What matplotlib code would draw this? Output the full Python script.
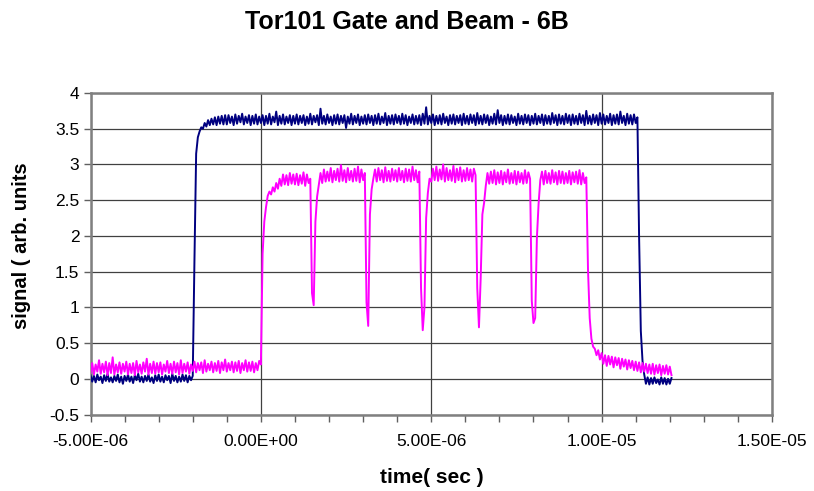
import numpy as np
import matplotlib
matplotlib.use("Agg")
import matplotlib.pyplot as plt
from matplotlib.ticker import FuncFormatter, MultipleLocator

# scope samples: one row = 1 us, 20 samples of 0.05 us
T_START = -5.0e-6
T_STEP = 0.05e-6

gate = [
    0.05, -0.04, 0.04, -0.05, 0.06, -0.02, 0.03, -0.06, 0.05, -0.03, 0.07, -0.04, 0.02, -0.05, 0.04, -0.03, 0.06, -0.05, 0.03, -0.07,
    0.04, -0.03, 0.06, -0.04, 0.03, -0.06, 0.05, -0.02, 0.07, -0.04, 0.03, -0.05, 0.04, -0.03, 0.06, -0.04, 0.02, -0.06, 0.05, -0.03,
    0.06, -0.04, 0.03, -0.05, 0.05, -0.02, 0.04, -0.06, 0.07, -0.03, 0.04, -0.05, 0.03, -0.04, 0.06, -0.03, 0.05, -0.05, 0.04, -0.02,
    0.04, 1.65, 3.15, 3.38, 3.46, 3.52, 3.50, 3.58, 3.53, 3.62, 3.55, 3.64, 3.56, 3.66, 3.55, 3.67, 3.57, 3.68, 3.56, 3.69,
    3.56, 3.69, 3.58, 3.67, 3.55, 3.70, 3.57, 3.68, 3.59, 3.71, 3.56, 3.67, 3.58, 3.69, 3.55, 3.68, 3.57, 3.70, 3.56, 3.67,
    3.58, 3.69, 3.55, 3.68, 3.57, 3.71, 3.56, 3.67, 3.59, 3.74, 3.55, 3.68, 3.57, 3.70, 3.56, 3.67, 3.58, 3.69, 3.55, 3.68,
    3.57, 3.70, 3.56, 3.68, 3.58, 3.69, 3.55, 3.67, 3.57, 3.71, 3.56, 3.68, 3.59, 3.69, 3.55, 3.78, 3.57, 3.68, 3.56, 3.70,
    3.58, 3.67, 3.55, 3.69, 3.57, 3.70, 3.56, 3.68, 3.58, 3.69, 3.51, 3.67, 3.57, 3.71, 3.56, 3.68, 3.58, 3.70, 3.55, 3.67,
    3.57, 3.69, 3.56, 3.70, 3.58, 3.68, 3.55, 3.69, 3.57, 3.71, 3.56, 3.67, 3.58, 3.72, 3.55, 3.68, 3.57, 3.69, 3.56, 3.70,
    3.58, 3.68, 3.56, 3.71, 3.57, 3.69, 3.55, 3.67, 3.58, 3.70, 3.56, 3.68, 3.57, 3.69, 3.55, 3.71, 3.57, 3.80, 3.56, 3.68,
    3.58, 3.70, 3.55, 3.68, 3.57, 3.69, 3.56, 3.71, 3.58, 3.67, 3.55, 3.69, 3.57, 3.70, 3.56, 3.68, 3.58, 3.69, 3.55, 3.71,
    3.57, 3.68, 3.56, 3.70, 3.58, 3.69, 3.55, 3.72, 3.57, 3.68, 3.56, 3.70, 3.58, 3.69, 3.55, 3.67, 3.57, 3.71, 3.56, 3.76,
    3.58, 3.69, 3.55, 3.68, 3.57, 3.70, 3.56, 3.69, 3.58, 3.67, 3.55, 3.71, 3.57, 3.68, 3.56, 3.70, 3.58, 3.69, 3.55, 3.68,
    3.57, 3.71, 3.56, 3.68, 3.58, 3.70, 3.55, 3.69, 3.57, 3.68, 3.56, 3.72, 3.58, 3.69, 3.55, 3.70, 3.57, 3.68, 3.56, 3.71,
    3.58, 3.69, 3.55, 3.70, 3.57, 3.68, 3.56, 3.71, 3.58, 3.69, 3.55, 3.75, 3.57, 3.68, 3.56, 3.70, 3.58, 3.69, 3.55, 3.72,
    3.57, 3.70, 3.56, 3.68, 3.58, 3.71, 3.55, 3.69, 3.57, 3.70, 3.56, 3.74, 3.58, 3.68, 3.55, 3.71, 3.57, 3.69, 3.56, 3.70,
    3.58, 3.66, 1.97, 0.67, 0.25, 0.06, -0.07, 0.02, -0.08, 0.01, -0.07, 0.02, -0.06, -0.01, -0.08, 0.02, -0.07, 0.01, -0.08, 0.00,
    -0.07, 0.01,
]

beam = [
    0.08, 0.22, 0.06, 0.20, 0.10, 0.26, 0.07, 0.21, 0.09, 0.24, 0.05, 0.22, 0.08, 0.30, 0.06, 0.20, 0.09, 0.23, 0.07, 0.21,
    0.10, 0.24, 0.06, 0.21, 0.08, 0.22, 0.05, 0.25, 0.09, 0.20, 0.07, 0.23, 0.10, 0.28, 0.06, 0.21, 0.08, 0.24, 0.07, 0.22,
    0.09, 0.23, 0.06, 0.20, 0.10, 0.25, 0.08, 0.21, 0.07, 0.24, 0.09, 0.22, 0.06, 0.26, 0.08, 0.21, 0.10, 0.23, 0.07, 0.20,
    0.11, 0.24, 0.09, 0.22, 0.12, 0.23, 0.08, 0.26, 0.10, 0.21, 0.12, 0.24, 0.09, 0.22, 0.11, 0.25, 0.08, 0.23, 0.12, 0.27,
    0.10, 0.22, 0.12, 0.24, 0.09, 0.23, 0.11, 0.25, 0.08, 0.22, 0.12, 0.26, 0.10, 0.23, 0.11, 0.24, 0.09, 0.22, 0.12, 0.25,
    0.20, 1.75, 2.20, 2.40, 2.56, 2.62, 2.58, 2.68, 2.62, 2.74, 2.66, 2.80, 2.70, 2.86, 2.72, 2.85, 2.71, 2.88, 2.73, 2.86,
    2.72, 2.87, 2.71, 2.85, 2.73, 2.89, 2.70, 2.86, 2.74, 2.80, 1.20, 1.03, 2.20, 2.55, 2.72, 2.88, 2.74, 2.93, 2.76, 2.90,
    2.77, 2.95, 2.75, 2.91, 2.78, 2.94, 2.76, 2.99, 2.77, 2.92, 2.75, 2.95, 2.78, 2.91, 2.76, 2.94, 2.77, 2.97, 2.75, 2.93,
    2.78, 2.88, 1.07, 0.74, 2.30, 2.65, 2.80, 2.93, 2.76, 2.95, 2.78, 2.92, 2.75, 2.96, 2.77, 2.91, 2.76, 2.94, 2.78, 2.92,
    2.76, 2.95, 2.78, 2.91, 2.75, 2.94, 2.77, 2.93, 2.76, 2.97, 2.78, 2.92, 2.75, 2.90, 1.27, 0.68, 1.00, 2.25, 2.60, 2.80,
    2.76, 2.94, 2.78, 2.97, 2.77, 2.93, 2.79, 3.00, 2.76, 2.95, 2.78, 2.92, 2.77, 2.98, 2.75, 2.94, 2.78, 2.96, 2.76, 2.92,
    2.77, 2.95, 2.78, 2.93, 2.76, 2.94, 2.85, 1.27, 0.72, 1.40, 2.30, 2.46, 2.70, 2.88, 2.73, 2.90, 2.74, 2.92, 2.72, 2.89,
    2.74, 2.91, 2.72, 2.89, 2.75, 2.93, 2.73, 2.88, 2.74, 2.91, 2.72, 2.90, 2.75, 2.88, 2.73, 2.92, 2.74, 2.89, 2.80, 1.09,
    0.78, 0.85, 1.97, 2.45, 2.78, 2.90, 2.72, 2.91, 2.74, 2.88, 2.73, 2.92, 2.75, 2.89, 2.72, 2.91, 2.74, 2.90, 2.73, 2.88,
    2.74, 2.91, 2.72, 2.89, 2.75, 2.90, 2.73, 2.92, 2.72, 2.88, 2.74, 2.82, 1.53, 0.85, 0.56, 0.45, 0.42, 0.33, 0.40, 0.27,
    0.36, 0.21, 0.33, 0.18, 0.32, 0.20, 0.31, 0.16, 0.30, 0.19, 0.29, 0.14, 0.28, 0.17, 0.27, 0.13, 0.26, 0.15, 0.25, 0.12,
    0.24, 0.11, 0.23, 0.09, 0.22, 0.10, 0.21, 0.08, 0.20, 0.07, 0.21, 0.06, 0.19, 0.08, 0.20, 0.05, 0.18, 0.07, 0.19, 0.06,
    0.17, 0.05,
]

x_ticks = [-5e-6, 0.0, 5e-6, 1e-5, 1.5e-5]
y_ticks = [-0.5, 0, 0.5, 1, 1.5, 2, 2.5, 3, 3.5, 4]


def plot_traces():
    """Draws the gate and beam scope traces in the old Excel look"""
    plt.rcParams['font.family'] = ['Liberation Sans', 'DejaVu Sans']
    fig = plt.figure(figsize=(8.14, 4.91), dpi=100)
    ax = fig.add_axes([0.1112, 0.1558, 0.8372, 0.6548])

    time = T_START + T_STEP * np.arange(len(gate))
    ax.plot(time, gate, color='#000080', lw=1.4, zorder=3)
    ax.plot(time, beam, color='#FF00FF', lw=1.4, zorder=4)

    ax.set_xlim(x_ticks[0], x_ticks[-1])
    ax.set_ylim(y_ticks[0], y_ticks[-1])
    ax.set_xticks(x_ticks)
    ax.set_yticks(y_ticks)
    ax.xaxis.set_minor_locator(MultipleLocator(1e-6))
    ax.xaxis.set_major_formatter(FuncFormatter(lambda v, p: '%.2E' % v))
    ax.yaxis.set_major_formatter(FuncFormatter(lambda v, p: '%g' % v))
    ax.tick_params(axis='both', which='both', direction='out', length=5,
                   width=1, color='#606060', labelsize=12.5)
    ax.tick_params(axis='x', pad=9)
    ax.tick_params(axis='y', pad=3)

    ax.grid(True, which='major', color='#404040', lw=0.9, zorder=1)
    for side in ax.spines.values():
        side.set_color('#808080')
        side.set_linewidth(1.8)

    fig.suptitle('Tor101 Gate and Beam - 6B', fontsize=18, fontweight='bold',
                 x=0.5, y=0.98)
    fig.text(0.53, 0.027, 'time( sec )', fontsize=15, fontweight='bold',
             ha='center', va='center')
    fig.text(0.027, 0.5, 'signal ( arb. units', fontsize=14.5,
             fontweight='bold', rotation=90, ha='center', va='center')
    fig.savefig('out.png', dpi=100)


def main():
    plot_traces()


if __name__ == "__main__":
    main()
